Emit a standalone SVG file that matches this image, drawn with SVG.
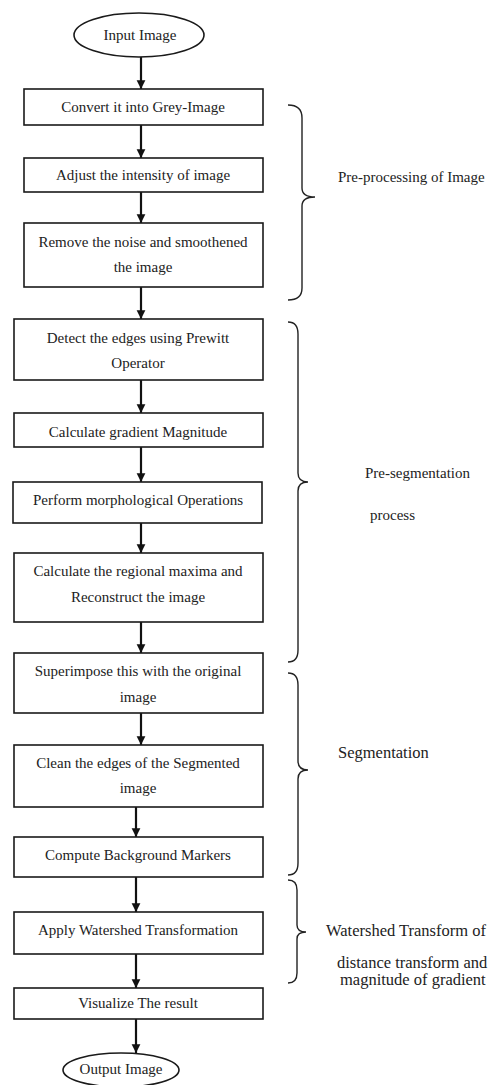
<svg xmlns="http://www.w3.org/2000/svg" width="494" height="1085" viewBox="0 0 494 1085">
<defs>
<style>
.box{fill:#fff;stroke:#1a1a1a;stroke-width:1.6}
.t{font-family:"Liberation Serif","Times New Roman",serif;font-size:15px;fill:#222;text-anchor:middle}
.l{font-family:"Liberation Serif","Times New Roman",serif;font-size:15px;fill:#222}
.lb{font-family:"Liberation Serif","Times New Roman",serif;font-size:16.5px;fill:#222}
.c{stroke:#111;stroke-width:2.2;fill:none;marker-end:url(#ah)}
.br{stroke:#222;stroke-width:1.4;fill:none}
</style>
<marker id="ah" viewBox="0 0 10 10" refX="10" refY="5" markerWidth="4" markerHeight="4.5" orient="auto" markerUnits="strokeWidth">
<path d="M0,0 L10,5 L0,10 z" fill="#111"/>
</marker>
</defs>
<rect width="494" height="1085" fill="#fff"/>
<g id="connectors">
<line class="c" x1="141" y1="57" x2="141" y2="89"/>
<line class="c" x1="141" y1="125" x2="141" y2="158"/>
<line class="c" x1="141" y1="192" x2="141" y2="223"/>
<line class="c" x1="141" y1="287" x2="141" y2="319"/>
<line class="c" x1="141" y1="380" x2="141" y2="413"/>
<line class="c" x1="141" y1="447" x2="141" y2="482"/>
<line class="c" x1="141" y1="523" x2="141" y2="553"/>
<line class="c" x1="141" y1="622" x2="141" y2="653"/>
<line class="c" x1="141" y1="713" x2="141" y2="745"/>
<line class="c" x1="136" y1="797" x2="136" y2="837"/>
<line class="c" x1="136" y1="877" x2="136" y2="912"/>
<line class="c" x1="136" y1="954" x2="136" y2="988"/>
<line class="c" x1="136" y1="1019" x2="136" y2="1053"/>
</g>
<g id="input"><ellipse class="box" cx="139" cy="35" rx="65" ry="22"/><text class="t" x="140" y="40">Input Image</text></g>
<g id="grey"><rect class="box" x="24" y="89" width="239" height="36"/><text class="t" x="143" y="112">Convert it into Grey-Image</text></g>
<g id="adjust"><rect class="box" x="24" y="158" width="239" height="34"/><text class="t" x="143" y="180">Adjust the intensity of image</text></g>
<g id="noise"><rect class="box" x="24" y="223" width="239" height="64"/><text class="t" x="143" y="247">Remove the noise and smoothened</text><text class="t" x="143" y="272">the image</text></g>
<g id="edges"><rect class="box" x="14" y="319" width="249" height="61"/><text class="t" x="138" y="343">Detect the edges using Prewitt</text><text class="t" x="138" y="368">Operator</text></g>
<g id="gradient"><rect class="box" x="14" y="413" width="249" height="34"/><text class="t" x="138" y="437">Calculate gradient Magnitude</text></g>
<g id="morph"><rect class="box" x="13" y="482" width="249" height="41"/><text class="t" x="138" y="505">Perform morphological Operations</text></g>
<g id="maxima"><rect class="box" x="14" y="553" width="249" height="69"/><text class="t" x="138" y="576">Calculate the regional maxima and</text><text class="t" x="138" y="602">Reconstruct the image</text></g>
<g id="superimpose"><rect class="box" x="14" y="653" width="249" height="60"/><text class="t" x="138" y="676">Superimpose this with the original</text><text class="t" x="138" y="702">image</text></g>
<g id="clean"><rect class="box" x="14" y="745" width="249" height="62"/><text class="t" x="138" y="768">Clean the edges of the Segmented</text><text class="t" x="138" y="793">image</text></g>
<g id="background"><rect class="box" x="14" y="837" width="249" height="40"/><text class="t" x="138" y="860">Compute Background Markers</text></g>
<g id="watershed"><rect class="box" x="14" y="912" width="249" height="42"/><text class="t" x="138" y="935">Apply Watershed Transformation</text></g>
<g id="visualize"><rect class="box" x="14" y="988" width="249" height="31"/><text class="t" x="138" y="1008">Visualize The result</text></g>
<g id="output"><ellipse class="box" cx="121" cy="1070" rx="58" ry="17"/><text class="t" x="121" y="1074">Output Image</text></g>
<g id="brace-preprocessing">
<path class="br" d="M288,105 Q302,105 302,118 L302,188 Q302,197 315,197 Q302,197 302,206 L302,288 Q302,300 288,300"/>
<text class="l" x="338" y="182">Pre-processing of Image</text>
</g>
<g id="brace-presegmentation">
<path class="br" d="M288,322 Q298,322 298,334 L298,473 Q298,482 308,482 Q298,482 298,491 L298,650 Q298,662 288,662"/>
<text class="l" x="365" y="478">Pre-segmentation</text>
<text class="l" x="370" y="520">process</text>
</g>
<g id="brace-segmentation">
<path class="br" d="M288,673 Q298,673 298,685 L298,761 Q298,770 308,770 Q298,770 298,779 L298,863 Q298,875 288,875"/>
<text class="lb" x="338" y="758">Segmentation</text>
</g>
<g id="brace-watershed">
<path class="br" d="M288,880 Q297,880 297,890 L297,925 Q297,932 306,932 Q297,932 297,939 L297,973 Q297,983 288,983"/>
<text class="lb" x="326" y="936">Watershed Transform of</text>
<text class="lb" x="337" y="968">distance transform and</text>
<text class="lb" x="340" y="985">magnitude of gradient</text>
</g>
</svg>
